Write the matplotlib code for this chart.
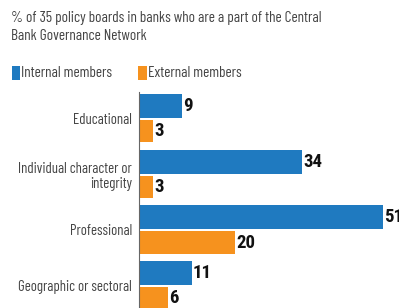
import numpy as np
import matplotlib.pyplot as plt
from matplotlib.patches import Rectangle

categories = ["Educational", "Individual character or\nintegrity", "Professional", "Geographic or sectoral"]
internal = [9, 34, 51, 11]
external = [3, 3, 20, 6]

blue = "#1f7ac0"
orange = "#f6921e"
plt.rcParams['font.family'] = ['Barlow Condensed', 'PT Sans Narrow', 'Roboto Condensed', 'DejaVu Sans']
num_font = ['Roboto Condensed', 'PT Sans Narrow', 'DejaVu Sans']

fig = plt.figure(figsize=(3.99, 3.08), dpi=100)
W, H = 399, 308

fig.text(11 / W, 1 - 11 / H,
         "% of 35 policy boards in banks who are a part of the Central\nBank Governance Network",
         fontsize=11, color="#444444", va="top", ha="left", linespacing=1.35)

# legend
fig.patches.append(Rectangle((12 / W, 1 - 80 / H), 8 / W, 14 / H, transform=fig.transFigure,
                             facecolor=blue, edgecolor="none"))
fig.text(21 / W, 1 - 73 / H, "Internal members", fontsize=11, color="#444444", va="center")
fig.patches.append(Rectangle((138 / W, 1 - 80 / H), 9 / W, 14 / H, transform=fig.transFigure,
                             facecolor=orange, edgecolor="none"))
fig.text(148 / W, 1 - 73 / H, "External members", fontsize=11, color="#444444", va="center")

ax = fig.add_axes([139 / W, 0, 1 - 139 / W, 220 / H])
y = np.arange(len(categories))
ax.barh(y - 0.225, internal, height=0.43, color=blue)
ax.barh(y + 0.225, external, height=0.40, color=orange)
for yi, v in zip(y, internal):
    ax.text(v + 0.3, yi - 0.225, str(v), va="center", ha="left", fontsize=13.5,
            fontweight="bold", color="#111111", family=num_font)
for yi, v in zip(y, external):
    ax.text(v + 0.3, yi + 0.225, str(v), va="center", ha="left", fontsize=13.5,
            fontweight="bold", color="#111111", family=num_font)

ax.set_xlim(0, 54.4)
ax.set_ylim(3.40, -0.548)
ax.set_yticks(y)
ax.set_yticklabels(categories, fontsize=10.6, color="#444444", linespacing=1.15)
ax.tick_params(axis="y", length=0, pad=5)
ax.set_xticks([])
for s in ["top", "right", "bottom"]:
    ax.spines[s].set_visible(False)
ax.spines["left"].set_color("#666666")
ax.spines["left"].set_linewidth(0.8)
ax.spines["left"].set_bounds(-0.48, 3.40)

fig.savefig("out.png", dpi=100)
